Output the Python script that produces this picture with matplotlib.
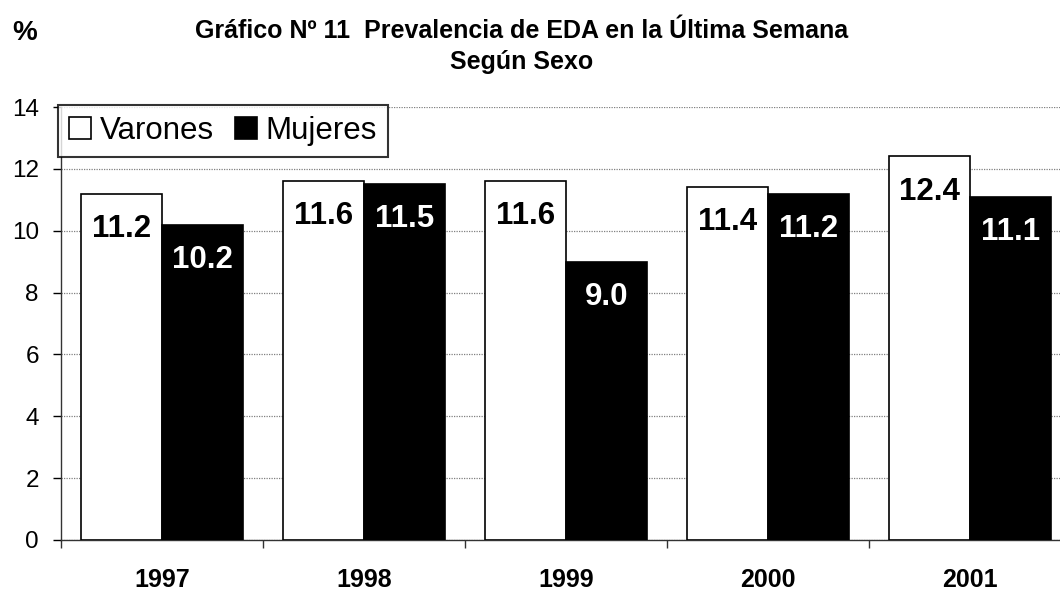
import matplotlib
matplotlib.use("Agg")
import matplotlib.pyplot as plt
import numpy as np
from matplotlib.patches import Patch
from matplotlib.ticker import FixedLocator, NullFormatter

years = ["1997", "1998", "1999", "2000", "2001"]
varones = [11.2, 11.6, 11.6, 11.4, 12.4]
mujeres = [10.2, 11.5, 9.0, 11.2, 11.1]
yticks = [0, 2, 4, 6, 8, 10, 12, 14]
title1 = "Gráfico Nº 11  Prevalencia de EDA en la Última Semana"
title2 = "Según Sexo"

plt.rcParams['font.family'] = ['Liberation Sans', 'DejaVu Sans']
narrow = ['Liberation Sans Narrow', 'Liberation Sans', 'DejaVu Sans']

W, H = 1060, 590
fig = plt.figure(figsize=(W / 100, H / 100), dpi=100)
ax = fig.add_axes([61 / W, 50 / H, 1010 / W, 433 / H])

x = np.arange(len(years))
bw = 0.4
b1 = ax.bar(x - bw / 2, varones, bw, color='white', edgecolor='black', linewidth=1.2, zorder=3)
b2 = ax.bar(x + bw / 2, mujeres, bw, color='black', edgecolor='black', linewidth=1.2, zorder=3)

for bars, vals, col in ((b1, varones, 'black'), (b2, mujeres, 'white')):
    for r, v in zip(bars, vals):
        ax.annotate(f"{v:.1f}", (r.get_x() + r.get_width() / 2, v),
                    xytext=(0, -31), textcoords='offset points',
                    ha='center', va='baseline', fontsize=22.5, fontweight='bold',
                    color=col, zorder=4)

ax.set_xlim(-0.5, len(years) - 0.5)
ax.set_ylim(0, 14)
ax.set_yticks(yticks)
ax.set_yticklabels([str(t) for t in yticks])
ax.tick_params(axis='y', direction='out', length=6, width=1, pad=10, labelsize=17.5,
               colors='black')

ax.set_xticks(x)
ax.set_xticklabels(years, fontsize=18, fontweight='bold')
ax.tick_params(axis='x', which='major', length=0, pad=20)
ax.xaxis.set_minor_locator(FixedLocator(np.arange(len(years) + 1) - 0.5))
ax.xaxis.set_minor_formatter(NullFormatter())
ax.tick_params(axis='x', which='minor', direction='out', length=6, width=1, color='#333333')

ax.grid(axis='y', linestyle=(0, (1, 1)), color='#808080', linewidth=0.9, zorder=0)
ax.set_axisbelow(True)
for s in ('top', 'right'):
    ax.spines[s].set_visible(False)
ax.spines['left'].set_color('#333333')
ax.spines['bottom'].set_color('#333333')
ax.spines['left'].set_linewidth(1)
ax.spines['bottom'].set_linewidth(1)

handles = [Patch(facecolor='white', edgecolor='black', linewidth=1.2, label='Varones'),
           Patch(facecolor='black', edgecolor='black', linewidth=1.2, label='Mujeres')]
leg = fig.legend(handles=handles, loc='upper left', bbox_to_anchor=(58 / W, 1 - 105 / H),
                 ncol=2, fontsize=22.5, frameon=True, fancybox=False, shadow=False,
                 handlelength=0.7, handleheight=0.7, handletextpad=0.3,
                 columnspacing=0.65, borderpad=0.35, borderaxespad=0)
leg.get_frame().set_edgecolor('black')
leg.get_frame().set_linewidth(1.5)
leg.set_zorder(10)

fig.text(522 / W, 1 - 31 / H, title1, ha='center', va='center', fontsize=18,
         fontweight='bold', family=narrow)
fig.text(522 / W, 1 - 62 / H, title2, ha='center', va='center', fontsize=18,
         fontweight='bold', family=narrow)
fig.text(25 / W, 1 - 33 / H, "%", ha='center', va='center', fontsize=20, fontweight='bold')

fig.savefig("out.png", dpi=100)
